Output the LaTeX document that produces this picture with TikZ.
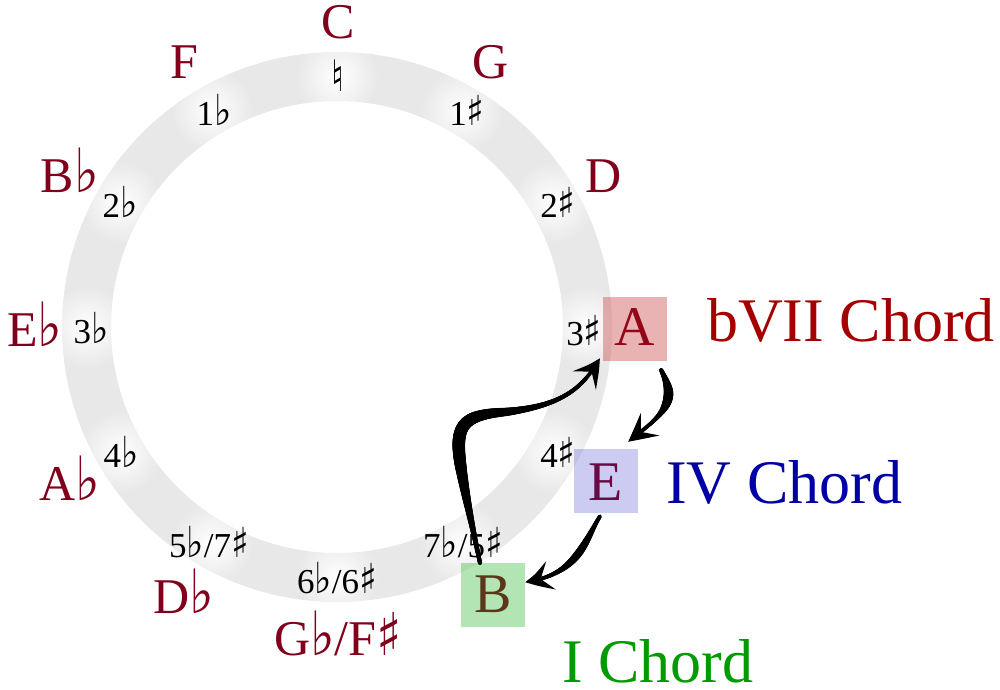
\documentclass[tikz,border=0pt]{standalone}
\usepackage{fontspec}
\setmainfont{Liberation Serif}
\newfontfamily\accfont{DejaVu Sans}
\usetikzlibrary{arrows.meta,fadings,bending,decorations.markings}
\newcommand{\myfl}{{\accfont\scalebox{1.05}[1.22]{♭}}}
\newcommand{\mysh}{{\accfont\scalebox{1.05}[1.18]{♯}}}
\newcommand{\mynat}{{\accfont\scalebox{1}[1.2]{♮}}}
\definecolor{notered}{RGB}{128,0,28}
\definecolor{chordred}{RGB}{165,0,0}
\definecolor{chordblue}{RGB}{0,0,165}
\definecolor{chordgreen}{RGB}{0,155,0}
\definecolor{ringgray}{RGB}{232,232,232}
\tikzfading[name=glowfade, inner color=transparent!0, outer color=transparent!100]
\tikzset{
  num/.style={inner sep=0pt, anchor=base, font=\fontsize{35}{40}\selectfont},
  note/.style={inner sep=0pt, anchor=base, text=notered, font=\fontsize{50}{56}\selectfont},
  boxnote/.style={inner sep=0pt, anchor=base, text=notered, font=\fontsize{56}{60}\selectfont},
  keybox/.style={minimum width=64pt, minimum height=64pt, inner sep=0pt, fill opacity=0.32},
  chord/.style={inner sep=0pt, anchor=base west, font=\fontsize{62}{66}\selectfont},
  arr/.style={line width=3.8pt, -{Stealth[length=28pt,width=29pt,inset=12pt,bend]}},
  taper/.style args={#1/#2/#3/#4}{postaction={decorate, decoration={markings,
    mark=between positions 0 and 0.92 step 0.8pt with {
      \pgfmathsetmacro\tpos{\pgfkeysvalueof{/pgf/decoration/mark info/distance from start}/\pgfdecoratedpathlength}
      \pgfmathsetmacro\rr{#1+#2*exp(-((\tpos-#3)/#4)^2)}
      \fill (0,0) circle[radius=\rr pt];}}}}
}
\begin{document}
\begin{tikzpicture}[x=1pt,y=-1pt]
\useasboundingbox (0,0) rectangle (1000,689);
\coordinate (O) at (337,327);
% ring
\fill[ringgray, even odd rule] (O) circle[radius=275pt] (O) circle[radius=226pt];
\begin{scope}[even odd rule]
  \clip (O) circle[radius=275pt] (O) circle[radius=226pt];
  \foreach \a in {90,60,30,0,-30,-60,-90,-120,-150,-180,-210,-240}
    \fill[white, path fading=glowfade] ([shift={(\a:250pt)}]O) circle[radius=42pt];
\end{scope}
% numbers
\node[inner sep=0pt, font=\fontsize{36}{40}\selectfont] (n0) at (338,76) {\mynat};
\node[num] (n1f) at (214,125) {1\myfl};
\node[num] (n1s) at (467,125) {1\mysh};
\node[num] (n2f) at (120,217) {2\myfl};
\node[num] (n2s) at (558,217) {2\mysh};
\node[num] (n3f) at (91,343) {3\myfl};
\node[num] (n3s) at (584,345) {3\mysh};
\node[num] (n4f) at (121,467) {4\myfl};
\node[num] (n4s) at (558,467) {4\mysh};
\node[num] (n5f) at (209,557) {5\myfl/7\mysh};
\node[num] (n7f) at (463,557) {7\myfl/5\mysh};
\node[num] (n6f) at (337,593) {6\myfl/6\mysh};
% note names
\node[note] (C) at (338,38) {C};
\node[note] (G) at (491,78) {G};
\node[note] (D) at (604,192) {D};
\node[note] (F) at (184,78) {F};
\node[note] (Bb) at (70,192) {B\myfl};
\node[note] (Eb) at (35,346) {E\myfl};
\node[note] (Ab) at (70,500) {A\myfl};
\node[note] (Db) at (184,613) {D\myfl};
\node[note] (Gb) at (338,655) {G\myfl/F\mysh};
\node[boxnote] (Alab) at (635,345) {A};
\node[boxnote] (Elab) at (606,500) {E};
\node[boxnote] (Blab) at (493,612) {B};
% boxes
\node[keybox, fill={rgb,255:red,190;green,20;blue,20}] (A) at (635,329) {};
\node[keybox, fill={rgb,255:red,40;green,40;blue,200}, fill opacity=0.24] (E) at (606,481) {};
\node[keybox, fill={rgb,255:red,20;green,170;blue,20}] (B) at (493,595) {};
% arrows
\draw[arr, taper=1.9/4.4/0.42/0.25] ([shift={(-13,0)}]B.north) .. controls (472,525) and (465,493) .. (461,468)
  .. controls (454,425) and (462,415) .. (505,412)
  .. controls (560,406) and (582,390) .. ([shift={(-3,-3)}]A.south west);
\draw[arr, taper=1.9/3.0/0.3/0.2] ([shift={(-6,9)}]A.south east) .. controls (666,380) and (670,390) .. (668,398)
  .. controls (665,415) and (645,428) .. ([shift={(-10,-7)}]E.north east);
\draw[arr, taper=1.8/2.2/0.4/0.25] ([shift={(-6,3)}]E.south) .. controls (585,540) and (578,575) .. ([shift={(0,-13)}]B.east);
% chord labels
\node[chord, text=chordred] (l7) at (707,341) {bVII Chord};
\node[chord, text=chordblue] (l4) at (666,503) {IV Chord};
\node[chord, text=chordgreen] (l1) at (562,682) {I Chord};
\end{tikzpicture}
\end{document}
